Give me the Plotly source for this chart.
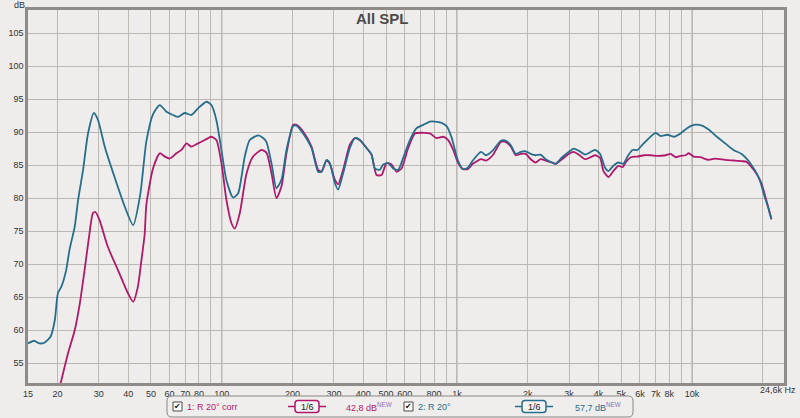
import math
import plotly.graph_objects as go

# ---------------- data ----------------
teal_freq = [15, 15.9, 16.8, 17.6, 18.7, 19.5, 20.1, 20.8, 21.8, 22.5, 23.7, 24.5, 25.7, 27.0, 28.6, 29.8,
             31.8, 35.0, 38.7, 42.0, 45.0, 47.8, 51.0, 54.5, 58.2, 62.1, 65.2, 69.6, 74.3, 79.3, 86.1, 90.4,
             94.9, 99.7, 104.7, 111.7, 117.3, 125.3, 131.5, 142.7, 150, 155, 162.7, 170.9, 179.5, 188.5,
             201.1, 207.9, 221.8, 240.8, 256.9, 265.6, 279.0, 288.1, 302.7, 312.6, 328.3, 350.5, 368.1,
             386.6, 412.7, 433.5, 447.8, 470.3, 485.9, 510.3, 535.8, 562.8, 591.1, 631, 673.9, 718.9,
             767.7, 806.3, 860.8, 904, 949, 1010, 1060, 1113, 1168, 1267, 1330, 1419, 1538, 1615, 1696,
             1780, 1868, 1961, 2059, 2161, 2269, 2382, 2541, 2625, 2802, 2988, 3137, 3293, 3513, 3748,
             3871, 4064, 4267, 4408, 4627, 4858, 5100, 5354, 5582, 5860, 6152, 6566, 7003, 7351, 7845,
             8368, 8929, 9527, 10163, 11021, 11757, 12751, 13824, 14993, 16255, 17340, 18506, 19429,
             20393, 21066, 21760]
teal_db = [58.0, 58.4, 58.0, 58.1, 59.0, 61.5, 65.6, 66.6, 69.1, 72.1, 75.7, 79.7, 84.2, 89.8, 92.9, 91.8,
           87.8, 83.2, 78.7, 75.9, 80.5, 88.6, 92.7, 94.1, 93.1, 92.6, 92.3, 92.9, 92.6, 93.6, 94.6, 94.1,
           91.8, 87.3, 82.7, 80.1, 80.7, 86.3, 88.8, 89.5, 89.1, 88.5, 85.3, 81.5, 82.8, 87.3,
           90.9, 91.0, 89.8, 87.6, 84.0, 84.0, 85.8, 85.3, 82.3, 81.3, 83.8, 87.6, 89.1,
           88.8, 87.6, 86.6, 84.5, 84.3, 85.1, 85.3, 84.5, 84.3, 86.1, 88.8, 90.6, 91.1,
           91.6, 91.6, 91.4, 90.9, 89.2, 85.7, 84.4, 84.6, 85.7, 87.0, 86.5, 87.2, 88.7, 88.7, 88.0,
           86.7, 87.0, 87.1, 86.7, 86.5, 86.6, 85.9, 85.4, 85.2, 86.2, 87.0, 87.5, 87.2, 86.6, 87.1,
           87.3, 86.7, 84.6, 84.1, 84.9, 85.4, 85.2, 86.5, 87.3, 87.3, 88.1, 89.1, 89.9, 89.4, 89.6,
           89.3, 89.8, 90.6, 91.1, 91.0, 90.4, 89.3, 88.3, 87.3, 86.7, 85.7, 84.2, 82.7,
           80.1, 78.6, 76.8]

mag_freq = [20.5, 22.2, 23.7, 24.9, 26.1, 27.4, 28.3, 29.0, 30.2, 32.8, 36.2, 39.9, 42.0, 44.0, 45.5,
            47.0, 47.8, 51.0, 54.5, 57.2, 60.1, 64.2, 67.4, 70.8, 74.3, 79.3, 84.7, 90.4, 94.9, 99.7,
            104.7, 110.0, 113.6, 119.3, 127.4, 135.9, 147.6, 154.9, 162.7, 170.9, 179.5, 188.5, 201.1,
            207.9, 221.8, 240.8, 256.9, 265.6, 279, 288.1, 302.7, 312.6, 328.3, 350.5, 368.1, 386.6,
            412.7, 433.5, 455, 478.1, 502, 527.2, 553.7, 581.5, 620.8, 662.9, 718.9, 767.7, 819.6,
            874.6, 918.3, 964.5, 1010, 1060, 1113, 1168, 1267, 1330, 1419, 1538, 1615, 1696, 1780,
            1868, 1961, 2059, 2161, 2269, 2382, 2541, 2625, 2802, 2988, 3137, 3293, 3513, 3748, 3871,
            4064, 4200, 4408, 4627, 4858, 5066, 5233, 5493, 5860, 6255, 6673, 7117, 7720, 8103, 8506,
            8929, 9374, 9681, 10163, 10844, 11757, 12546, 13824, 14993, 16255, 17063, 17913, 18808,
            19742, 20725, 21760]
mag_db = [51.5, 56.5, 60.0, 64.0, 69.1, 74.7, 77.7, 77.9, 76.7, 72.6, 69.1, 65.6, 64.3, 66.6, 70.5,
          74.5, 79.0, 84.5, 86.8, 86.3, 86.0, 86.8, 87.3, 88.3, 87.8, 88.3, 88.8, 89.3, 88.8, 85.3,
          79.7, 76.2, 75.4, 77.7, 83.7, 86.3, 87.3, 86.9, 83.8, 80.0, 81.8, 86.8, 91.1,
          91.1, 90.1, 87.8, 84.3, 84.0, 85.7, 85.2, 82.8, 82.1, 84.3, 88.1, 89.1, 88.8,
          87.6, 86.6, 83.5, 83.5, 85.3, 85.1, 84.0, 84.5, 87.6, 89.8, 89.9, 89.8, 89.1,
          89.3, 88.8, 87.3, 85.4, 84.4, 84.4, 85.2, 85.9, 85.7, 86.5, 88.5, 88.5, 87.8, 86.5,
          86.7, 86.7, 85.9, 85.4, 85.9, 85.7, 85.4, 85.2, 85.9, 86.7, 87.0, 86.6, 85.9, 86.3, 86.5,
          86.1, 84.1, 83.2, 84.1, 84.9, 84.7, 85.5, 86.2, 86.3, 86.5, 86.5, 86.4, 86.5, 86.7, 86.2,
          86.4, 86.5, 86.8, 86.3, 86.2, 85.8, 86.0, 85.8, 85.7, 85.6, 85.5, 84.7, 83.7,
          82.2, 79.6, 76.8]

x_tick_vals = [15, 20, 30, 40, 50, 60, 70, 80, 100, 200, 300, 400, 500, 600, 800,
               1000, 2000, 3000, 4000, 5000, 6000, 7000, 8000, 10000]
x_tick_text = ["15", "20", "30", "40", "50", "60", "70", "80", "100", "200", "300", "400", "500", "600",
               "800", "1k", "2k", "3k", "4k", "5k", "6k", "7k", "8k", "10k"]
x_minor_grid = [90, 700, 900, 9000, 20000]
y_ticks = [55, 60, 65, 70, 75, 80, 85, 90, 95, 100, 105]

series_names = ["1: R 20° corr", "2: R 20°"]
series_levels = ["42,8 dB", "57,7 dB"]

MAG = "#b0196b"
TEAL = "#276d8d"
BG = "#eeedeb"
GRID = "#bcb9b5"
FRAME = "#8e8b88"

# ---------------- layout helpers (pixel -> paper) ----------------
W, H = 800, 418
L, R, T, B = 28, 16, 10, 35
PW, PH = W - L - R, H - T - B


def px(x):
    return (x - L) / PW


def py(y):
    return (H - B - y) / PH


fig = go.Figure()
fig.add_trace(go.Scatter(x=mag_freq, y=mag_db, mode="lines", name=series_names[0],
                         line=dict(color=MAG, width=1.8, shape="spline", smoothing=0.6)))
fig.add_trace(go.Scatter(x=teal_freq, y=teal_db, mode="lines", name=series_names[1],
                         line=dict(color=TEAL, width=1.8, shape="spline", smoothing=0.6)))

shapes = []
annotations = []


def label(text, x, y, size=9, color="#333", xanchor="center", family="Liberation Sans"):
    annotations.append(dict(text=text, x=px(x), y=py(y), xref="paper", yref="paper",
                            xanchor=xanchor, yanchor="middle", showarrow=False,
                            font=dict(size=size, color=color, family=family)))


# slightly heavier decade grid lines
for v in [100, 1000, 10000]:
    shapes.append(dict(type="line", xref="x", yref="paper", x0=v, x1=v, y0=0, y1=1,
                       line=dict(color="#b3b0ac", width=1.3), layer="below"))

label("<b>All SPL</b>", 382, 18, size=15, color="#4d4b4a")
label("dB", 19, 4.5)
label("24,6k Hz", 798, 390.5, xanchor="right")


def rrect(x0, y0, x1, y1, r, color, width, fill):
    X0, X1 = px(x0), px(x1)
    Y0, Y1 = py(y1), py(y0)
    rx, ry = r / PW, r / PH
    path = (f"M {X0+rx},{Y0} L {X1-rx},{Y0} Q {X1},{Y0} {X1},{Y0+ry} "
            f"L {X1},{Y1-ry} Q {X1},{Y1} {X1-rx},{Y1} L {X0+rx},{Y1} Q {X0},{Y1} {X0},{Y1-ry} "
            f"L {X0},{Y0+ry} Q {X0},{Y0} {X0+rx},{Y0} Z")
    return dict(type="path", xref="paper", yref="paper", path=path,
                line=dict(color=color, width=width), fillcolor=fill)


# legend box
shapes.append(rrect(167, 396, 633, 417, 5, "#8a8784", 1, "#efeeec"))

ly = 406.5
legend_items = [
    dict(cb=173, tx=185, bx=295, lv=344, color=MAG, name=series_names[0], level=series_levels[0]),
    dict(cb=404, tx=416, bx=522, lv=573, color=TEAL, name=series_names[1], level=series_levels[1]),
]
for it in legend_items:
    shapes.append(dict(type="rect", xref="paper", yref="paper", x0=px(it["cb"]), x1=px(it["cb"] + 9),
                       y0=py(ly + 4.5), y1=py(ly - 4.5), line=dict(color="#4a4a4a", width=1),
                       fillcolor="#ffffff"))
    label("✔", it["cb"] + 4.5, ly, size=8, color="#111", family="DejaVu Sans")
    label(it["name"], it["tx"], ly, color=it["color"], xanchor="left")
    bx = it["bx"]
    shapes.append(dict(type="line", xref="paper", yref="paper", x0=px(bx - 7), x1=px(bx),
                       y0=py(ly), y1=py(ly), line=dict(color=it["color"], width=1.5)))
    shapes.append(dict(type="line", xref="paper", yref="paper", x0=px(bx + 24), x1=px(bx + 31),
                       y0=py(ly), y1=py(ly), line=dict(color=it["color"], width=1.5)))
    shapes.append(rrect(bx, ly - 6, bx + 24, ly + 6, 3, it["color"], 1.5, "#f4f3f1"))
    label("1/6", bx + 12, ly, size=9, color="#222")
    label(it["level"] + "<sup><span style='color:#8b6fc0'>NEW</span></sup>", it["lv"], ly,
          color=it["color"], xanchor="left")

fig.update_layout(
    width=W, height=H,
    margin=dict(l=L, r=R, t=T, b=B, autoexpand=False),
    paper_bgcolor=BG, plot_bgcolor=BG,
    showlegend=False,
    shapes=shapes, annotations=annotations,
    font=dict(family="Liberation Sans", size=9, color="#333"),
    xaxis=dict(type="log", range=[math.log10(15), math.log10(24600)],
               tickvals=x_tick_vals, ticktext=x_tick_text,
               showgrid=True, gridcolor=GRID, gridwidth=1,
               minor=dict(tickvals=x_minor_grid, showgrid=True, gridcolor=GRID, gridwidth=1, ticks=""),
               showline=True, linecolor=FRAME, linewidth=2.5, mirror=True,
               ticks="", zeroline=False, automargin=False, tickfont=dict(size=9, color="#333")),
    yaxis=dict(range=[52, 108.5], tickvals=y_ticks, showgrid=True, gridcolor=GRID, gridwidth=1,
               showline=True, linecolor=FRAME, linewidth=2.5, mirror=True,
               ticks="", zeroline=False, automargin=False, tickfont=dict(size=9, color="#333")),
)

fig.write_html("out.html", config={"displayModeBar": False},
               post_script="document.body.style.margin='0';document.body.style.padding='0';"
                           "document.body.style.background='#eeedeb';")
